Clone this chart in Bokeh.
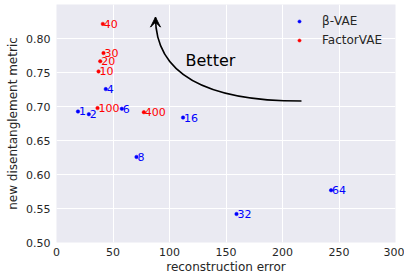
from bokeh.plotting import figure
from bokeh.models import (ColumnDataSource, Legend, LegendItem, Arrow, VeeHead, Label,
                          FixedTicker, CustomJSTickFormatter)
from bokeh.core.properties import value
from bokeh.embed import file_html
from bokeh.resources import INLINE

# data
beta_labels = ["1", "2", "4", "6", "8", "16", "32", "64"]
beta_err = [19.0, 28.6, 43.6, 57.8, 70.8, 112.0, 159.3, 243.0]
beta_metric = [0.693, 0.689, 0.726, 0.697, 0.626, 0.684, 0.542, 0.577]

factor_labels = ["10", "20", "30", "40", "100", "400"]
factor_err = [37.2, 38.7, 41.6, 41.0, 36.3, 77.3]
factor_metric = [0.752, 0.767, 0.779, 0.822, 0.698, 0.692]

x_ticks = [0, 50, 100, 150, 200, 250, 300]
y_ticks = [0.50, 0.55, 0.60, 0.65, 0.70, 0.75, 0.80]

# annotation (arrow) geometry in data coords
arrow_start = (216.8, 0.7084)
arrow_ctrl = (87.6, 0.7084)
arrow_end = (87.6, 0.832)
better_pos = (114.2, 0.7676)

FONT = "DejaVu Sans"
TXT = "#262626"

p = figure(width=404, height=276, output_backend="svg", toolbar_location=None,
           x_range=(0, 300), y_range=(0.5, 0.8506),
           background_fill_color="#EAEAF2", border_fill_color="white",
           min_border_top=4, min_border_right=9, min_border_left=56, min_border_bottom=34)
p.outline_line_color = None

for ax in (p.xaxis[0], p.yaxis[0]):
    ax.axis_line_color = None
    ax.major_tick_line_color = None
    ax.minor_tick_line_color = None
    ax.major_tick_out = 0
    ax.major_tick_in = 0
    ax.major_label_text_font = FONT
    ax.major_label_text_font_size = "11px"
    ax.major_label_text_color = TXT
    ax.axis_label_text_font = FONT
    ax.axis_label_text_font_size = "12px"
    ax.axis_label_text_font_style = "normal"
    ax.axis_label_text_color = TXT

p.xaxis.ticker = FixedTicker(ticks=x_ticks)
p.yaxis.ticker = FixedTicker(ticks=y_ticks)
p.yaxis.formatter = CustomJSTickFormatter(code="return tick.toFixed(2);")
p.xaxis.axis_label = "reconstruction error"
p.yaxis.axis_label = "new disentanglement metric"
p.xaxis.major_label_standoff = 5
p.yaxis.major_label_standoff = 6
p.xaxis.axis_label_standoff = 1
p.yaxis.axis_label_standoff = 3

p.grid.grid_line_color = "white"
p.grid.grid_line_width = 1

src_b = ColumnDataSource(dict(x=beta_err, y=beta_metric, t=beta_labels))
src_f = ColumnDataSource(dict(x=factor_err, y=factor_metric, t=factor_labels))

rb = p.scatter("x", "y", source=src_b, size=3.5, line_width=0.5, color="blue")
rf = p.scatter("x", "y", source=src_f, size=3.5, line_width=0.5, color="red")

p.text("x", "y", text="t", source=src_b, text_color="blue", text_font=value(FONT),
       text_font_size="11px", text_align="left", text_baseline="alphabetic", x_offset=1)
p.text("x", "y", text="t", source=src_f, text_color="red", text_font=value(FONT),
       text_font_size="11px", text_align="left", text_baseline="alphabetic", x_offset=1)

p.quadratic(x0=[arrow_start[0]], y0=[arrow_start[1]], x1=[arrow_end[0]], y1=[arrow_end[1]],
            cx=[arrow_ctrl[0]], cy=[arrow_ctrl[1]], line_color="black", line_width=1.6)
p.add_layout(Arrow(end=VeeHead(size=10, fill_color="black", line_color="black"),
                   x_start=arrow_end[0], y_start=arrow_end[1] - 0.01,
                   x_end=arrow_end[0], y_end=arrow_end[1],
                   line_color="black", line_width=1.6))

p.add_layout(Label(x=better_pos[0], y=better_pos[1], text="Better", text_font=FONT,
                   text_font_size="16px", text_color="black", text_baseline="alphabetic"))

legend = Legend(items=[LegendItem(label="β-VAE", renderers=[rb]),
                       LegendItem(label="FactorVAE", renderers=[rf])],
                location=(239, 194), orientation="vertical")
legend.background_fill_alpha = 0
legend.border_line_color = None
legend.padding = 0
legend.margin = 0
legend.glyph_width = 8
legend.glyph_height = 16
legend.label_height = 16
legend.spacing = 3
legend.label_standoff = 19
legend.label_text_font = FONT
legend.label_text_font_size = "12px"
legend.label_text_color = TXT
p.add_layout(legend)

open("out.html", "w").write(file_html(p, INLINE))
